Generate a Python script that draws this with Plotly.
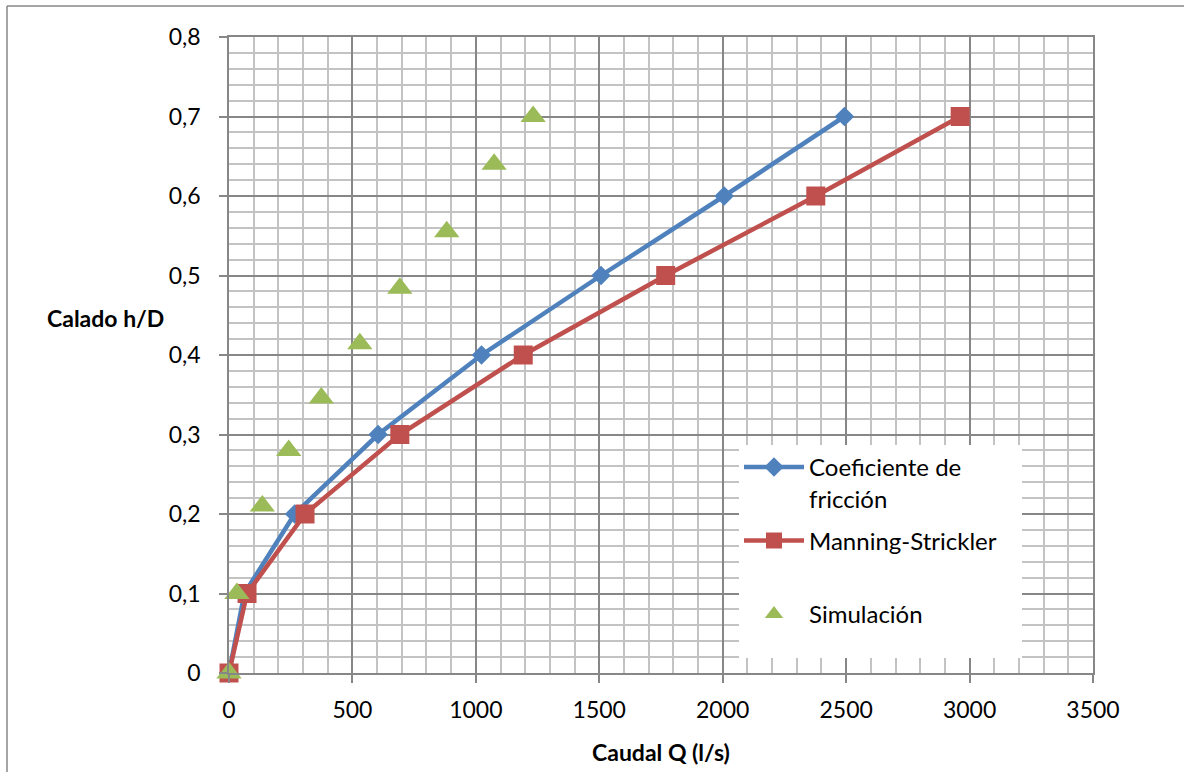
import plotly.graph_objects as go

# Caudal Q (l/s) y calado relativo h/D para cada método
h_niveles = [0, 0.1, 0.2, 0.3, 0.4, 0.5, 0.6, 0.7]
q_friccion = [0, 62, 266, 604, 1023, 1507, 2006, 2493]
q_manning = [0, 73, 308, 692, 1192, 1769, 2377, 2962]

q_simulacion = [0, 32, 135, 242, 374, 530, 692, 882, 1074, 1232]
h_simulacion = [0, 0.10, 0.21, 0.28, 0.346, 0.414, 0.484, 0.555, 0.64, 0.70]

x_ticks = [0, 500, 1000, 1500, 2000, 2500, 3000, 3500]
x_labels = ["0", "500", "1000", "1500", "2000", "2500", "3000", "3500"]
y_ticks = [0, 0.1, 0.2, 0.3, 0.4, 0.5, 0.6, 0.7, 0.8]
y_labels = ["0", "0,1", "0,2", "0,3", "0,4", "0,5", "0,6", "0,7", "0,8"]

AZUL = "#4F81BD"
ROJO = "#C0504D"
VERDE = "#9BBB59"
GRIS_MAYOR = "#878787"
GRIS_MENOR = "#C3C3C3"
FUENTE = "Lato"

W, H = 1184, 772
L, R, T, B = 229, 1093, 37, 673


def px_x(px):
    return (px - L) / (R - L)


def px_y(py):
    return (B - py) / (B - T)


fig = go.Figure()

fig.add_trace(go.Scatter(
    x=q_friccion, y=h_niveles, mode="lines+markers",
    name="Coeficiente de<br>fricción", legendgroup="a",
    line=dict(color=AZUL, width=4.5),
    marker=dict(symbol="diamond", size=15, color=AZUL),
    cliponaxis=False,
))
fig.add_trace(go.Scatter(
    x=q_manning, y=h_niveles, mode="lines+markers",
    name="Manning-Strickler<br> ", legendgroup="b",
    line=dict(color=ROJO, width=4.5),
    marker=dict(symbol="square", size=19, color=ROJO),
    cliponaxis=False,
))
fig.add_trace(go.Scatter(
    x=q_simulacion, y=h_simulacion, mode="markers",
    name="Simulación", legendgroup="c",
    marker=dict(symbol="triangle-up", size=22, color=VERDE),
    cliponaxis=False,
))

eje_comun = dict(
    showline=True, mirror=True, linecolor=GRIS_MAYOR, linewidth=1.5,
    showgrid=True, gridcolor=GRIS_MAYOR, gridwidth=1.5,
    ticks="outside", ticklen=8, tickcolor=GRIS_MAYOR, tickwidth=1.5,
    tickfont=dict(family=FUENTE, size=23, color="black"),
    zeroline=False, fixedrange=True,
)

fig.update_xaxes(
    range=[0, 3500], tickmode="array", tickvals=x_ticks, ticktext=x_labels,
    minor=dict(dtick=100, showgrid=True, gridcolor=GRIS_MENOR, gridwidth=1.5),
    ticklabelstandoff=8,
    **eje_comun,
)
fig.update_yaxes(
    range=[0, 0.8], tickmode="array", tickvals=y_ticks, ticktext=y_labels,
    minor=dict(dtick=0.02, showgrid=True, gridcolor=GRIS_MENOR, gridwidth=1.5),
    ticklabelstandoff=14,
    **eje_comun,
)

# Títulos de los ejes
fig.add_annotation(
    text="<b>Calado h/D</b>", xref="paper", yref="paper",
    x=px_x(105), y=px_y(318), xanchor="center", yanchor="middle",
    showarrow=False, font=dict(family=FUENTE, size=23, color="black"),
)
fig.add_annotation(
    text="<b>Caudal Q (l/s)</b>", xref="paper", yref="paper",
    x=px_x(661), y=px_y(752), xanchor="center", yanchor="middle",
    showarrow=False, font=dict(family=FUENTE, size=23, color="black"),
)

# Fondo blanco del recuadro de la leyenda (la leyenda se dibuja encima)
fig.add_shape(type="rect", xref="paper", yref="paper", layer="above",
              x0=px_x(739), y0=px_y(445), x1=px_x(1022), y1=px_y(658),
              fillcolor="white", line=dict(width=0))

# Marco exterior del gráfico
fig.add_shape(type="line", xref="paper", yref="paper",
              x0=px_x(7), y0=px_y(6), x1=px_x(W + 5), y1=px_y(6),
              line=dict(color=GRIS_MAYOR, width=1.5))
fig.add_shape(type="line", xref="paper", yref="paper",
              x0=px_x(7), y0=px_y(6), x1=px_x(7), y1=px_y(H + 5),
              line=dict(color=GRIS_MAYOR, width=1.5))

fig.update_layout(
    width=W, height=H,
    margin=dict(l=L, r=W - R, t=T, b=H - B, autoexpand=False),
    paper_bgcolor="white", plot_bgcolor="white",
    font=dict(family=FUENTE, size=24, color="black"),
    showlegend=True,
    legend=dict(
        x=px_x(739), y=px_y(445), xanchor="left", yanchor="top",
        bgcolor="rgba(0,0,0,0)", borderwidth=0,
        font=dict(family=FUENTE, size=24, color="black"),
        traceorder="grouped", tracegroupgap=8, valign="top",
        itemwidth=60,
    ),
)

fig.write_html("out.html")
